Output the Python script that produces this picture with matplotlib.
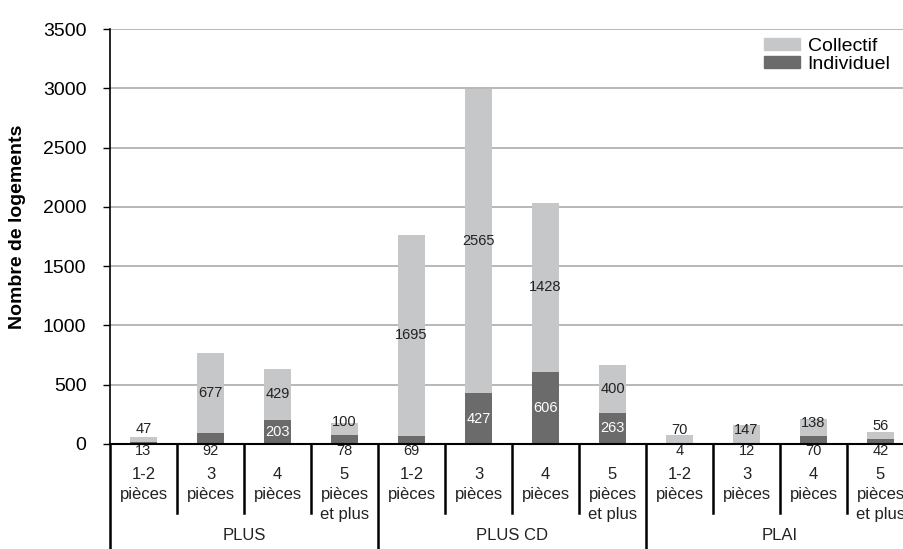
import matplotlib
matplotlib.use("Agg")
import matplotlib.pyplot as plt
import matplotlib.transforms as mtransforms
from matplotlib.patches import Patch
import numpy as np

plt.rcParams['font.family'] = ['Liberation Sans', 'DejaVu Sans']

# Data
groups = ["PLUS", "PLUS CD", "PLAI"]
rooms = ["1-2\npièces", "3\npièces", "4\npièces", "5\npièces\net plus"]
individuel = [13, 92, 203, 78, 69, 427, 606, 263, 4, 12, 70, 42]
collectif = [47, 677, 429, 100, 1695, 2565, 1428, 400, 70, 147, 138, 56]
y_ticks = [0, 500, 1000, 1500, 2000, 2500, 3000, 3500]

light = "#c6c7c8"
dark = "#6b6b6b"

W, H = 904, 549
fig = plt.figure(figsize=(W / 100, H / 100), dpi=100)
ax = fig.add_axes([110 / W, 105 / H, 804 / W, 415 / H])

x = np.arange(len(individuel))
ind = np.array(individuel)
col = np.array(collectif)
ax.bar(x, ind, width=0.41, color=dark, zorder=3)
ax.bar(x, col, width=0.41, bottom=ind, color=light, zorder=3)

ax.set_xlim(-0.5, len(x) - 0.5)
ax.set_ylim(0, 3500)
ax.set_yticks(y_ticks)
ax.tick_params(axis='y', labelsize=14, length=5, width=1, pad=12)
ax.set_xticks([])
ax.grid(axis='y', color='#a4a4a4', linewidth=1.1, zorder=0)
for s in ['top', 'right']:
    ax.spines[s].set_visible(False)
ax.spines['left'].set_linewidth(1.2)
ax.spines['bottom'].set_linewidth(1.5)
ax.spines['bottom'].set_zorder(5)

# data labels
for i in range(len(x)):
    if ind[i] >= 100:
        ax.text(x[i], ind[i] / 2, str(ind[i]), ha='center', va='center',
                fontsize=10.5, color='white', zorder=6)
    else:
        ax.text(x[i], -60, str(ind[i]), ha='center', va='center',
                fontsize=10.5, color='#222222', zorder=6, clip_on=False)
    ymid = max(ind[i] + col[i] / 2, ind[i] + 110)
    ax.text(x[i], ymid, str(col[i]), ha='center', va='center',
            fontsize=10.5, color='#222222', zorder=6)

# category axis below the plot
tr = mtransforms.blended_transform_factory(ax.transData, fig.transFigure)
y_axis = 105 / H
for k in range(len(x) + 1):
    xb = k - 0.5
    ybot = 0 if k % 4 == 0 else 1 - 513 / H
    ax.plot([xb, xb], [y_axis, ybot], color='black', lw=1.8,
            transform=tr, clip_on=False)
for i in range(len(x)):
    ax.text(x[i], 1 - 467 / H, rooms[i % 4], ha='center', va='top',
            fontsize=12, linespacing=1.4, transform=tr, color='#222222')
for g, name in enumerate(groups):
    ax.text(g * 4 + 1.5, 1 - 535 / H, name, ha='center', va='center',
            fontsize=12, transform=tr, color='#222222')

fig.text(18 / W, 1 - 227 / H, "Nombre de logements", rotation=90,
         ha='center', va='center', fontsize=14, fontweight='bold')

handles = [Patch(color=light, label="Collectif"), Patch(color=dark, label="Individuel")]
fig.legend(handles=handles, loc='upper left', bbox_to_anchor=(764 / W, 1 - 38 / H),
           frameon=False, fontsize=14, handlelength=1.85, handleheight=0.55,
           labelspacing=0.05, handletextpad=0.4, borderpad=0, borderaxespad=0)

fig.savefig("out.png", dpi=100)
